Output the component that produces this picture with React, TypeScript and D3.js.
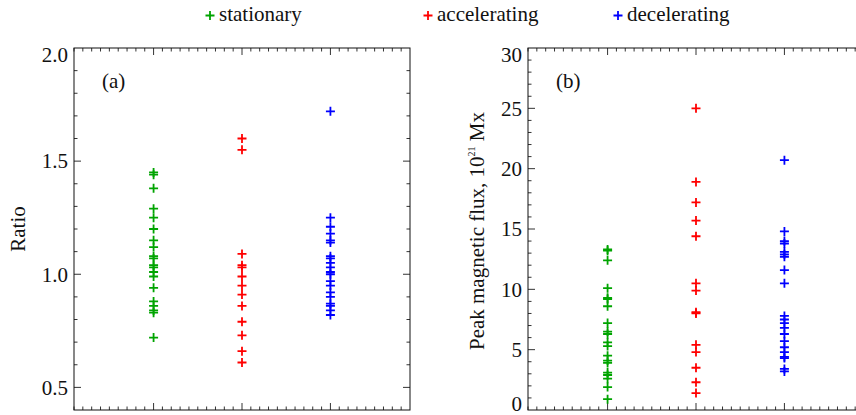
import React, { useEffect, useRef } from "react";
import * as d3 from "d3";

const categories = ["stationary", "accelerating", "decelerating"];
const categoryColors = ["#00a400", "#ff0000", "#0000ff"];

// panel (a): ratio
const ratioStationary = [1.45, 1.44, 1.38, 1.29, 1.25, 1.2, 1.15, 1.12, 1.08, 1.07, 1.04, 1.03, 1.01, 0.99, 0.94, 0.88, 0.86, 0.84, 0.83, 0.72];
const ratioAccelerating = [1.6, 1.55, 1.09, 1.04, 1.03, 0.99, 0.95, 0.91, 0.86, 0.79, 0.73, 0.66, 0.61];
const ratioDecelerating = [1.72, 1.25, 1.21, 1.18, 1.15, 1.14, 1.08, 1.07, 1.05, 1.03, 1.01, 1.0, 0.97, 0.95, 0.92, 0.9, 0.87, 0.86, 0.84, 0.82];

// panel (b): peak magnetic flux, 10^21 Mx
const fluxStationary = [13.3, 13.2, 12.4, 10.1, 9.3, 9.2, 8.6, 7.2, 6.5, 6.3, 5.6, 5.3, 4.5, 4.1, 3.9, 3.1, 2.9, 2.6, 1.9, 0.9];
const fluxAccelerating = [25.0, 18.9, 17.2, 15.7, 14.4, 10.5, 9.9, 8.1, 8.0, 5.4, 4.8, 3.5, 2.3, 1.4];
const fluxDecelerating = [20.7, 14.8, 14.0, 13.8, 13.1, 12.9, 12.7, 11.6, 10.5, 7.8, 7.5, 7.2, 6.8, 6.3, 5.7, 5.2, 4.8, 4.4, 4.3, 3.4, 3.2];

const ratioTicks = ["0.5", "1.0", "1.5", "2.0"];
const fluxTicks = ["0", "5", "10", "15", "20", "25", "30"];

const FONT = "'Liberation Serif', 'Times New Roman', serif";
const W = 856,
  H = 415;

const cross = "M-4.5,0H4.5M0,-4.5V4.5";

function drawPanel(svg, opts) {
  const { left, right, top, bottom, yDomain, yMinor, yTicks, series, tag } = opts;
  const x = d3.scaleLinear().domain([0.1, 3.9]).range([left, right]);
  const y = d3.scaleLinear().domain(yDomain).range([bottom, top]);
  const g = svg.append("g");

  // x ticks, bottom and top, pointing inward
  const xt = d3.range(1, 39).map(d => d / 10);
  xt.forEach(v => {
    const major = Math.abs(v - Math.round(v)) < 1e-6;
    const len = major ? 7 : 3.5;
    g.append("line").attr("x1", x(v)).attr("x2", x(v)).attr("y1", bottom).attr("y2", bottom - len)
      .attr("stroke", "#333").attr("stroke-width", 1);
    g.append("line").attr("x1", x(v)).attr("x2", x(v)).attr("y1", top).attr("y2", top + len)
      .attr("stroke", "#333").attr("stroke-width", 1);
  });

  // y ticks, left and right
  const [y0, y1] = yDomain;
  const n = Math.round((y1 - y0) / yMinor);
  d3.range(1, n).forEach(i => {
    const v = y0 + i * yMinor;
    const major = yTicks.some(t => Math.abs(+t - v) < 1e-6);
    const len = major ? 7 : 3.5;
    g.append("line").attr("x1", left).attr("x2", left + len).attr("y1", y(v)).attr("y2", y(v))
      .attr("stroke", "#333").attr("stroke-width", 1);
    g.append("line").attr("x1", right).attr("x2", right - len).attr("y1", y(v)).attr("y2", y(v))
      .attr("stroke", "#333").attr("stroke-width", 1);
  });

  g.append("rect").attr("x", left).attr("y", top).attr("width", right - left).attr("height", bottom - top)
    .attr("fill", "none").attr("stroke", "#111").attr("stroke-width", 1);

  // tick labels
  yTicks.forEach(t => {
    const v = +t;
    let dy = 0;
    if (Math.abs(v - y1) < 1e-6) dy = 7;
    if (Math.abs(v - y0) < 1e-6) dy = -6;
    g.append("text").attr("x", left - 6).attr("y", y(v) + dy).attr("dy", "0.35em")
      .attr("text-anchor", "end").attr("font-family", FONT).attr("font-size", 21).attr("fill", "#111")
      .text(t);
  });

  g.append("text").attr("x", left + 28).attr("y", 88).attr("font-family", FONT).attr("font-size", 21)
    .attr("fill", "#111").text(tag);

  series.forEach((vals, i) => {
    g.append("g").selectAll("path").data(vals).join("path")
      .attr("d", cross)
      .attr("transform", d => `translate(${x(i + 1)},${y(d)})`)
      .attr("stroke", categoryColors[i]).attr("stroke-width", 1.8).attr("fill", "none");
  });
}

export default function App() {
  const ref = useRef(null);

  useEffect(() => {
    const svg = d3.select(ref.current);
    svg.selectAll("*").remove();
    svg.append("rect").attr("width", W).attr("height", H).attr("fill", "#fff");

    // legend
    const legendX = [210, 428, 618];
    categories.forEach((c, i) => {
      svg.append("path").attr("d", "M-4.5,0H4.5M0,-4.5V4.5").attr("transform", `translate(${legendX[i]},15.5)`)
        .attr("stroke", categoryColors[i]).attr("stroke-width", 1.8);
      svg.append("text").attr("x", legendX[i] + 9).attr("y", 21).attr("font-family", FONT)
        .attr("font-size", 21).attr("fill", "#111").text(c);
    });

    drawPanel(svg, {
      left: 74, right: 410, top: 48, bottom: 410,
      yDomain: [0.4, 2.0], yMinor: 0.1, yTicks: ratioTicks,
      series: [ratioStationary, ratioAccelerating, ratioDecelerating], tag: "(a)"
    });
    drawPanel(svg, {
      left: 528, right: 864, top: 48, bottom: 410,
      yDomain: [0, 30], yMinor: 1, yTicks: fluxTicks,
      series: [fluxStationary, fluxAccelerating, fluxDecelerating], tag: "(b)"
    });

    svg.append("text").attr("transform", "translate(25,229) rotate(-90)").attr("text-anchor", "middle")
      .attr("font-family", FONT).attr("font-size", 21).attr("fill", "#111").text("Ratio");

    const yl = svg.append("text").attr("transform", "translate(484,231) rotate(-90)").attr("text-anchor", "middle")
      .attr("font-family", FONT).attr("font-size", 21).attr("fill", "#111");
    yl.append("tspan").text("Peak magnetic flux, 10");
    yl.append("tspan").attr("font-size", 10).attr("dy", -9).text("21");
    yl.append("tspan").attr("dy", 9).text(" Mx");
  }, []);

  return (
    <div style={{ position: "absolute", left: 0, top: 0 }}>
      <svg ref={ref} width={W} height={H} style={{ display: "block", overflow: "hidden" }} />
    </div>
  );
}
